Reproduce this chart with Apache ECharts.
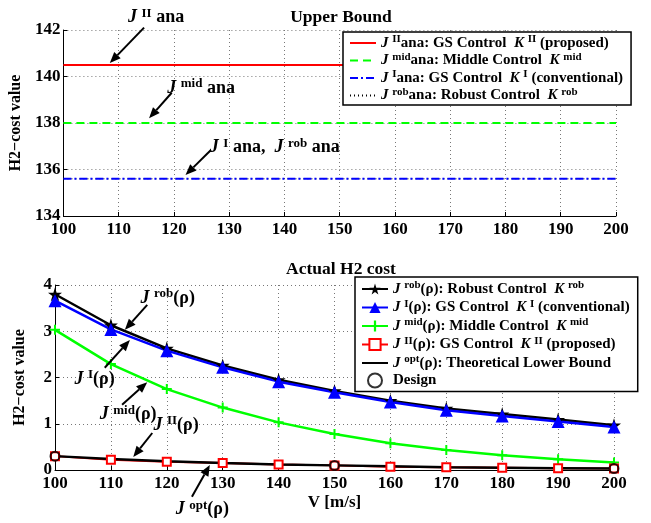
<!DOCTYPE html>
<html><head><meta charset="utf-8">
<script src="https://cdn.jsdelivr.net/npm/echarts@6/dist/echarts.min.js"></script>
<style>html,body{margin:0;padding:0;background:#fff}#c{width:651px;height:523px}</style>
</head><body><div id="c"></div><script>
// ---------- data ----------
const speeds = [100,110,120,130,140,150,160,170,180,190,200];
// upper bound (analytic)
const upperII  = [140.5,140.5,140.5,140.5,140.5,140.5,140.5,140.5,140.5,140.5,140.5];
const upperMid = [138.0,138.0,138.0,138.0,138.0,138.0,138.0,138.0,138.0,138.0,138.0];
const upperI   = [135.6,135.6,135.6,135.6,135.6,135.6,135.6,135.6,135.6,135.6,135.6];
const upperRob = [135.6,135.6,135.6,135.6,135.6,135.6,135.6,135.6,135.6,135.6,135.6];
// actual H2 cost
const actualRob = [3.80,3.13,2.63,2.26,1.95,1.71,1.50,1.33,1.21,1.09,0.97];
const actualI   = [3.66,3.04,2.58,2.22,1.91,1.68,1.47,1.29,1.17,1.05,0.93];
const actualMid = [3.03,2.29,1.75,1.35,1.03,0.78,0.58,0.43,0.32,0.23,0.16];
const actualII  = [0.30,0.22,0.18,0.15,0.12,0.10,0.07,0.06,0.05,0.04,0.03];
const actualOpt = [0.30,0.24,0.19,0.15,0.12,0.10,0.08,0.06,0.05,0.04,0.03];
const designV    = [100,150,200];
const designCost = [0.30,0.10,0.03];

const FONT = '"Liberation Serif","Times New Roman",serif';
const pairs = (xs, ys) => xs.map((x,i)=>[x, ys[i]]);

const legendNames = {
  uII:  '{j|J }{s|II}{t|ana: GS Control  }{j|K }{s|II}{t| (proposed)}',
  uMid: '{j|J }{s|mid}{t|ana: Middle Control  }{j|K }{s|mid}',
  uI:   '{j|J }{s|I}{t|ana: GS Control  }{j|K }{s|I}{t| (conventional)}',
  uRob: '{j|J }{s|rob}{t|ana: Robust Control  }{j|K }{s|rob}',
  aRob: '{j|J }{s|rob}{t|(ρ): Robust Control  }{j|K }{s|rob}',
  aI:   '{j|J }{s|I}{t|(ρ): GS Control  }{j|K }{s|I}{t| (conventional)}',
  aMid: '{j|J }{s|mid}{t|(ρ): Middle Control  }{j|K }{s|mid}',
  aII:  '{j|J }{s|II}{t|(ρ): GS Control  }{j|K }{s|II}{t| (proposed)}',
  aOpt: '{j|J }{s|opt}{t|(ρ): Theoretical Lower Bound}',
  design: '{t|Design}'
};
const legRich = {
  j: {fontFamily: FONT, fontStyle:'italic', fontWeight:'bold', fontSize:15, lineHeight:18, color:'#000'},
  s: {fontFamily: FONT, fontWeight:'bold', fontSize:11, lineHeight:11, verticalAlign:'top', color:'#000'},
  t: {fontFamily: FONT, fontWeight:'bold', fontSize:15, lineHeight:18, color:'#000'}
};

const starPath = 'path://M50,0 L61,35 L98,35 L68,57 L79,91 L50,70 L21,91 L32,57 L2,35 L39,35 Z';
const plusPath = 'path://M4,0 L6,0 L6,4 L10,4 L10,6 L6,6 L6,10 L4,10 L4,6 L0,6 L0,4 L4,4 Z';

function xAxisCfg(gi, name){
  return {
    type:'value', gridIndex: gi, min:100, max:200, interval:10,
    name: name || '', nameLocation:'middle', nameGap: 24,
    nameTextStyle:{fontFamily:FONT, fontWeight:'bold', fontSize:17, color:'#000'},
    axisLine:{onZero:false, lineStyle:{color:'#000', width:1}},
    axisTick:{inside:true, length:4, lineStyle:{color:'#000'}},
    axisLabel:{fontFamily:FONT, fontWeight:'bold', fontSize:17, color:'#000', margin:5},
    splitLine:{show:true, lineStyle:{color:'#777', type:[1,3], width:1}}
  };
}
function yAxisCfg(gi, min, max, interval){
  return {
    type:'value', gridIndex: gi, min, max, interval,
    name:'H2\u2212cost value', nameLocation:'middle', nameGap: 27, nameRotate: 90,
    nameTextStyle:{fontFamily:FONT, fontWeight:'bold', fontSize:16, color:'#000'},
    axisLine:{show:true, onZero:false, lineStyle:{color:'#000', width:1}},
    axisTick:{show:true, inside:true, length:4, lineStyle:{color:'#000'}},
    axisLabel:{fontFamily:FONT, fontWeight:'bold', fontSize:17, color:'#000', margin:3},
    splitLine:{show:true, lineStyle:{color:'#777', type:[1,3], width:1}}
  };
}
const hideSym = {opacity:0};

const chart = echarts.init(document.getElementById('c'), null, {renderer:'canvas'});
const option = {
  animation:false,
  backgroundColor:'#fff',
  title:[
    {text:'Upper Bound', left:336, textAlign:'center', top:3,
     textStyle:{fontFamily:FONT, fontWeight:'bold', fontSize:17.5, color:'#000'}},
    {text:'Actual H2 cost', left:336, textAlign:'center', top:255,
     textStyle:{fontFamily:FONT, fontWeight:'bold', fontSize:17.5, color:'#000'}}
  ],
  grid:[
    {left:55, top:30, width:561, height:186},
    {left:55, top:285, width:559, height:185}
  ],
  xAxis:[xAxisCfg(0), xAxisCfg(1, 'V [m/s]')],
  yAxis:[yAxisCfg(0,134,142,2), yAxisCfg(1,0,4,1)],
  legend:[
    {orient:'vertical', left:343, top:32, padding:[2,8,2,6], itemGap:1, itemWidth:26, itemHeight:14,
     backgroundColor:'#fff', borderColor:'#000', borderWidth:1.5,
     data:[{name:'uII', itemStyle:hideSym},{name:'uMid', itemStyle:hideSym},
           {name:'uI', itemStyle:hideSym},{name:'uRob', itemStyle:hideSym}],
     formatter: n => legendNames[n], textStyle:{rich:legRich}},
    {orient:'vertical', left:355, top:277, padding:[3,8,3,6], itemGap:2, itemWidth:26, itemHeight:14,
     backgroundColor:'#fff', borderColor:'#000', borderWidth:1.5,
     data:['aRob','aI','aMid','aII',{name:'aOpt', itemStyle:hideSym},'design'],
     formatter: n => legendNames[n], textStyle:{rich:legRich}}
  ],
  series:[
    {name:'uRob', type:'line', xAxisIndex:0, yAxisIndex:0, data:pairs(speeds, upperRob), symbol:'none',
     lineStyle:{color:'#000', width:1, type:[1,3]}, itemStyle:{color:'#000'}},
    {name:'uI', type:'line', xAxisIndex:0, yAxisIndex:0, data:pairs(speeds, upperI), symbol:'none',
     lineStyle:{color:'#0000ff', width:2, type:[8,3,2,3]}, itemStyle:{color:'#0000ff'}},
    {name:'uMid', type:'line', xAxisIndex:0, yAxisIndex:0, data:pairs(speeds, upperMid), symbol:'none',
     lineStyle:{color:'#00ff00', width:2, type:[8,5]}, itemStyle:{color:'#00ff00'}},
    {name:'uII', type:'line', xAxisIndex:0, yAxisIndex:0, data:pairs(speeds, upperII), symbol:'none',
     lineStyle:{color:'#ff0000', width:2}, itemStyle:{color:'#ff0000'}},

    {name:'aMid', type:'line', xAxisIndex:1, yAxisIndex:1, data:pairs(speeds, actualMid),
     symbol:plusPath, symbolSize:10, lineStyle:{color:'#00ff00', width:2.5}, itemStyle:{color:'#00ff00'}},
    {name:'aII', type:'line', xAxisIndex:1, yAxisIndex:1, data:pairs(speeds, actualII),
     symbol:'rect', symbolSize:8, lineStyle:{color:'#ff0000', width:2},
     itemStyle:{color:'#fff', borderColor:'#ff0000', borderWidth:2}},
    {name:'aRob', type:'line', xAxisIndex:1, yAxisIndex:1, data:pairs(speeds, actualRob),
     symbol:starPath, symbolSize:14, lineStyle:{color:'#000', width:2.5}, itemStyle:{color:'#000'}},
    {name:'aI', type:'line', xAxisIndex:1, yAxisIndex:1, data:pairs(speeds, actualI),
     symbol:'triangle', symbolSize:13, lineStyle:{color:'#0000ff', width:2.5}, itemStyle:{color:'#0000ff'}},
    {name:'aOpt', type:'line', xAxisIndex:1, yAxisIndex:1, data:pairs(speeds, actualOpt),
     symbol:'none', lineStyle:{color:'#000', width:2.5}, itemStyle:{color:'#000'}},
    {name:'design', type:'scatter', xAxisIndex:1, yAxisIndex:1, data:pairs(designV, designCost),
     symbol:'circle', symbolSize:9, itemStyle:{color:'rgba(255,255,255,0)', borderColor:'#000', borderWidth:2}, z:5}
  ]
};
chart.setOption(option);

// ---------- annotations (data coordinates) ----------
const annGrid  = [0,0,0,1,1,1,1,1];
const annText  = [
  '{j|J }{s|II}{t| ana}',
  '{j|J }{s|mid}{t| ana}',
  '{j|J }{s|I}{t| ana,  }{j|J }{s|rob}{t| ana}',
  '{j|J }{s|rob}{t|(ρ)}',
  '{j|J }{s|I}{t|(ρ)}',
  '{j|J }{s|mid}{t|(ρ)}',
  '{j|J }{s|II}{t|(ρ)}',
  '{j|J }{s|opt}{t|(ρ)}'
];
const annTextPos = [[111.7,142.55],[118.8,139.5],[126.5,136.95],[115.3,3.72],[103.5,1.97],[108.0,1.20],[117.6,0.97],[121.6,-0.86]];
const annTail    = [[114.6,142.1],[119.6,139.3],[126.7,136.84],[116.5,3.57],[108.9,2.21],[112.0,1.41],[117.4,0.80],[124.5,-0.58]];
const annTip     = [[108.4,140.58],[115.5,138.2],[122.1,135.76],[112.5,3.03],[113.4,2.81],[116.5,1.90],[114.0,0.28],[127.7,0.11]];

const annRich = {
  j: {fontFamily: FONT, fontStyle:'italic', fontWeight:'bold', fontSize:18, lineHeight:21, fill:'#000'},
  s: {fontFamily: FONT, fontWeight:'bold', fontSize:13, lineHeight:13, verticalAlign:'top', fill:'#000'},
  t: {fontFamily: FONT, fontWeight:'bold', fontSize:18, lineHeight:21, fill:'#000'}
};
const g = [];
annText.forEach((txt, i) => {
  const gi = annGrid[i];
  const p  = chart.convertToPixel({gridIndex: gi}, annTextPos[i]);
  const a  = chart.convertToPixel({gridIndex: gi}, annTail[i]);
  const b  = chart.convertToPixel({gridIndex: gi}, annTip[i]);
  g.push({type:'text', x:p[0], y:p[1], z:100,
    style:{text:txt, rich:annRich, verticalAlign:'middle', align:'left', fill:'#000'}});
  const dx = b[0]-a[0], dy = b[1]-a[1], L = Math.hypot(dx,dy);
  const ux = dx/L, uy = dy/L, hl = 11, hw = 4.5;
  const bx = b[0]-ux*hl, by = b[1]-uy*hl;
  g.push({type:'line', z:100, shape:{x1:a[0], y1:a[1], x2:bx, y2:by}, style:{stroke:'#000', lineWidth:2}});
  g.push({type:'polygon', z:100, shape:{points:[[b[0],b[1]],[bx-uy*hw, by+ux*hw],[bx+uy*hw, by-ux*hw]]},
    style:{fill:'#000'}});
});
chart.setOption({graphic: g});
</script></body></html>
